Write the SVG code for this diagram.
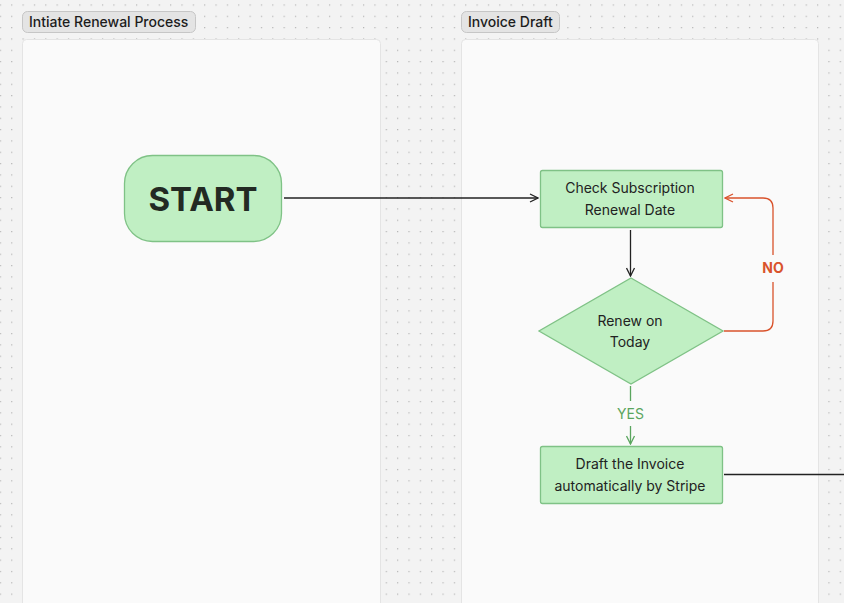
<svg xmlns="http://www.w3.org/2000/svg" width="844" height="603" viewBox="0 0 844 603">
<defs>
<pattern id="dots" x="-0.2" y="4.4" width="11.35" height="11.33" patternUnits="userSpaceOnUse">
<rect x="0" y="0" width="1.2" height="1.2" fill="#b4b4b4"/>
</pattern>
<marker id="arrBlack" viewBox="0 0 10 10" refX="9" refY="5" markerWidth="10" markerHeight="10" markerUnits="userSpaceOnUse" orient="auto">
<path d="M1,1 L9,5 L1,9" fill="none" stroke="#222" stroke-width="1.3"/>
</marker>
<marker id="arrRed" viewBox="0 0 10 10" refX="9" refY="5" markerWidth="10" markerHeight="10" markerUnits="userSpaceOnUse" orient="auto">
<path d="M1,1 L9,5 L1,9" fill="none" stroke="#d9532c" stroke-width="1.3"/>
</marker>
<marker id="arrGreen" viewBox="0 0 10 10" refX="9" refY="5" markerWidth="10" markerHeight="10" markerUnits="userSpaceOnUse" orient="auto">
<path d="M1,1 L9,5 L1,9" fill="none" stroke="#5aa55e" stroke-width="1.3"/>
</marker>
</defs>
<style>
.lane{fill:#fafafa;stroke:#e4e4e4;stroke-width:1}
.pill{fill:#e4e4e4;stroke:#c6c6c6;stroke-width:1}
.pilltxt{font-family:Inter,"Liberation Sans",sans-serif;font-size:14px;font-weight:500;fill:#1c1c1c}
.node{fill:#c0efc3;stroke:#7fc286;stroke-width:1.3}
.ntxt{font-family:Inter,"Liberation Sans",sans-serif;font-size:14px;fill:#222;text-anchor:middle}
.start{font-family:Inter,"Liberation Sans",sans-serif;font-size:33px;font-weight:700;fill:#232a23;text-anchor:middle}
.conn{fill:none;stroke-width:1.3}
</style>
<rect width="844" height="603" fill="#f3f3f3"/>
<rect width="844" height="603" fill="url(#dots)"/>
<g id="lane1">
<rect class="lane" x="22.5" y="39.5" width="358" height="580" rx="4"/>
<rect class="pill" x="22.5" y="11.5" width="173" height="21" rx="5"/>
<text class="pilltxt" x="29" y="27">Intiate Renewal Process</text>
</g>
<g id="lane2">
<rect class="lane" x="461.5" y="39.5" width="357" height="580" rx="4"/>
<rect class="pill" x="461.5" y="11.5" width="98" height="21" rx="5"/>
<text class="pilltxt" x="468" y="27">Invoice Draft</text>
</g>
<g id="connectors">
<line class="conn" x1="284" y1="198" x2="538" y2="198" stroke="#222" marker-end="url(#arrBlack)"/>
<line class="conn" x1="630.5" y1="230" x2="630.5" y2="276" stroke="#222" marker-end="url(#arrBlack)"/>
<path class="conn" d="M724,331 H763 Q773,331 773,321 V282" stroke="#d9532c"/>
<path class="conn" d="M773,255 V208 Q773,198 763,198 H725" stroke="#d9532c" marker-end="url(#arrRed)"/>
<text x="773" y="273" font-family="Inter,'Liberation Sans',sans-serif" font-size="14" font-weight="700" fill="#d9532c" text-anchor="middle">NO</text>
<line class="conn" x1="630.5" y1="386" x2="630.5" y2="401" stroke="#5aa55e"/>
<line class="conn" x1="630.5" y1="426" x2="630.5" y2="444" stroke="#5aa55e" marker-end="url(#arrGreen)"/>
<text x="630.5" y="419" font-family="Inter,'Liberation Sans',sans-serif" font-size="14" fill="#5aa55e" text-anchor="middle">YES</text>
<line class="conn" x1="724" y1="474.5" x2="844" y2="474.5" stroke="#222"/>
</g>
<g id="start">
<rect class="node" x="124.5" y="155.5" width="157" height="86" rx="28"/>
<text class="start" x="203" y="211">START</text>
</g>
<g id="check">
<rect class="node" x="540.5" y="170.5" width="182" height="57" rx="2"/>
<text class="ntxt" x="630" y="193">Check Subscription</text>
<text class="ntxt" x="630" y="215">Renewal Date</text>
</g>
<g id="decision">
<polygon class="node" points="631,278 723,331 631,384 539,331"/>
<text class="ntxt" x="630" y="326">Renew on</text>
<text class="ntxt" x="630" y="347">Today</text>
</g>
<g id="draft">
<rect class="node" x="540.5" y="446.5" width="182" height="57" rx="2"/>
<text class="ntxt" x="630" y="469">Draft the Invoice</text>
<text class="ntxt" x="630" y="491">automatically by Stripe</text>
</g>
</svg>
